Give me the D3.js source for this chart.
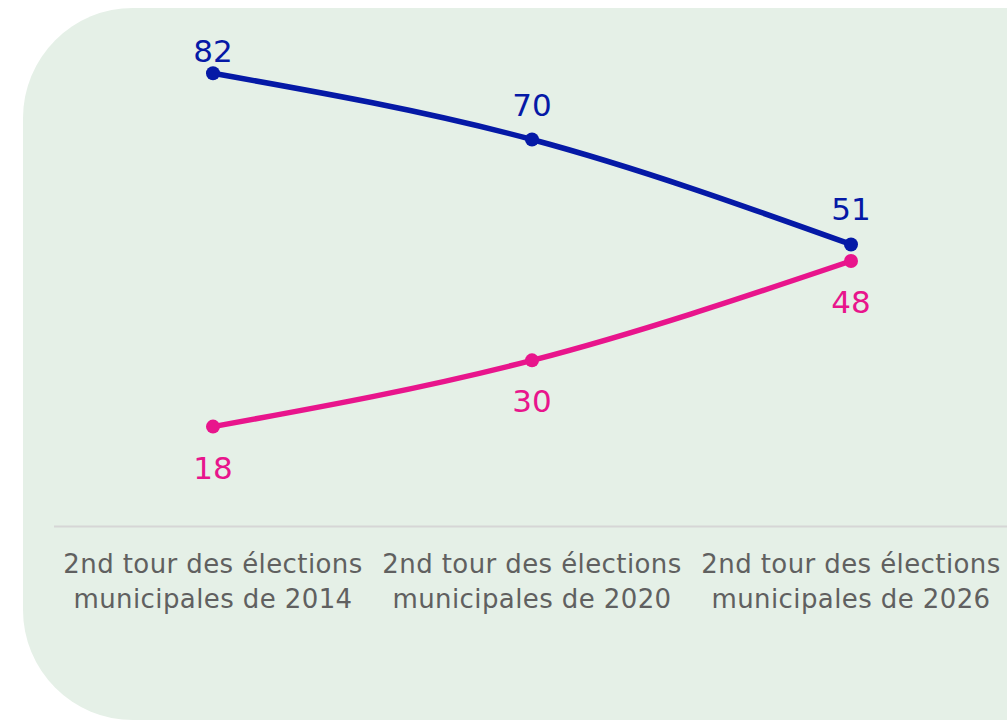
<!DOCTYPE html>
<html>
<head>
<meta charset="utf-8">
<script src="https://cdn.jsdelivr.net/npm/d3@7"></script>
<style>
    body { margin: 0; background: #ffffff; }
    svg { display: block; }
    text { font-family: "DejaVu Sans", sans-serif; }
</style>
</head>
<body>
<div id="chart"></div>
<script>
"use strict";

const categories = [
    "2nd tour des élections\nmunicipales de 2014",
    "2nd tour des élections\nmunicipales de 2020",
    "2nd tour des élections\nmunicipales de 2026",
];
const seriesBlue = [82, 70, 51];
const seriesPink = [18, 30, 48];

const WIDTH = 1007;
const HEIGHT = 721;
const LABEL_TOP = 62;

let svg = d3.select("#chart").append("svg")
    .attr("width", WIDTH)
    .attr("height", HEIGHT);

// rounded panel running off the right and bottom edges
svg.append("rect")
    .attr("x", 23)
    .attr("y", 8)
    .attr("width", 1150)
    .attr("height", 712)
    .attr("rx", 110)
    .attr("ry", 110)
    .attr("fill", "#e5f0e7");

let xscale = d3.scaleBand()
    .domain(categories)
    .range([53.5, 1010.5])
    .padding(0);

let yscale = d3.scaleLinear()
    .domain([0, 100])
    .range([526, -26.1]);

let xaxis = svg.append("g")
    .attr("transform", `translate(0,${yscale(0)})`)
    .call(d3.axisBottom(xscale).tickSize(0).tickSizeOuter(0));

xaxis.select(".domain")
    .attr("stroke", "#d6d6d6")
    .attr("stroke-width", 2);

xaxis.selectAll(".tick text").each(function(d) {
    let t = d3.select(this).text(null)
        .attr("fill", "#606060")
        .attr("font-size", 26)
        .attr("letter-spacing", 0.4)
        .attr("font-family", "DejaVu Sans, sans-serif")
        .attr("dy", null)
        .attr("y", 0);
    d.split("\n").forEach((part, i) => {
        t.append("tspan")
            .attr("x", 0)
            .attr("y", 47 + i * 35)
            .text(part);
    });
});

let line = d3.line()
    .x((d, i) => xscale(categories[i]) + xscale.bandwidth() / 2)
    .y(d => yscale(d))
    .curve(d3.curveMonotoneX);

function draw_series(values, color, labelDy) {
    svg.append("path")
        .datum(values)
        .attr("fill", "none")
        .attr("stroke", color)
        .attr("stroke-width", 5.5)
        .attr("d", line);

    svg.selectAll(null)
        .data(values)
        .enter().append("circle")
        .attr("cx", (d, i) => xscale(categories[i]) + xscale.bandwidth() / 2)
        .attr("cy", d => yscale(d))
        .attr("r", 7)
        .attr("fill", color);

    svg.selectAll(null)
        .data(values)
        .enter().append("text")
        .attr("x", (d, i) => xscale(categories[i]) + xscale.bandwidth() / 2)
        .attr("y", d => Math.max(LABEL_TOP, yscale(d) + labelDy))
        .attr("text-anchor", "middle")
        .attr("font-size", 31)
        .attr("fill", color)
        .text(d => d);
}

draw_series(seriesBlue, "#0519a6", -24);
draw_series(seriesPink, "#e8158c", 52);
</script>
</body>
</html>
